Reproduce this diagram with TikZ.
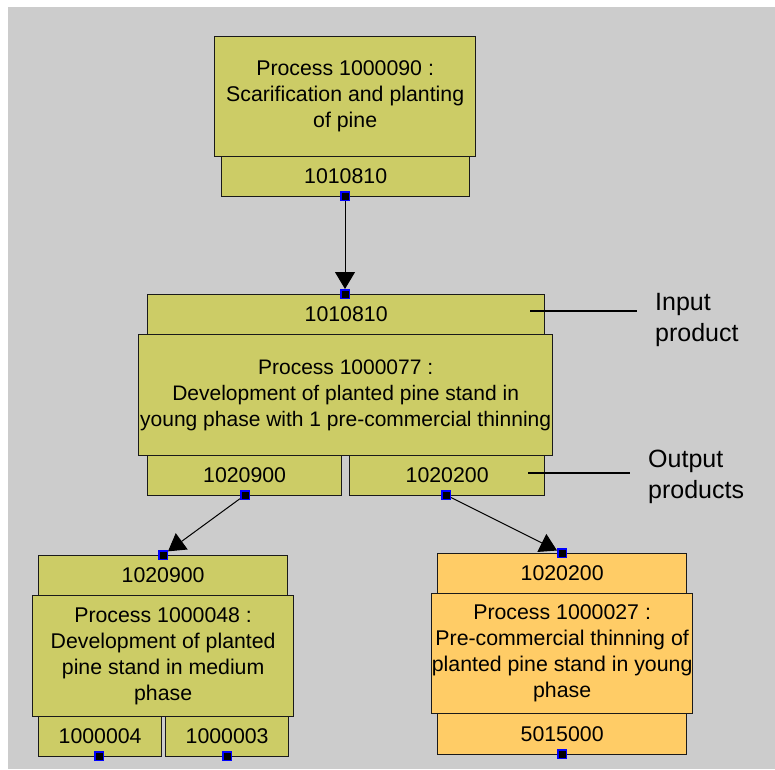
\documentclass[tikz,border=0pt]{standalone}
\usepackage{fontspec}
\setmainfont{Liberation Sans}
\usetikzlibrary{arrows.meta}
\definecolor{olivebox}{HTML}{CCCC66}
\definecolor{orangebox}{HTML}{FFCC66}
\definecolor{bggray}{HTML}{CCCCCC}
\definecolor{edgecol}{HTML}{1A1A1A}
\tikzset{
  box/.style={draw=edgecol, line width=1.3pt, inner sep=0pt, anchor=north west, align=center, font=\fontsize{21.3}{26}\selectfont},
  olive/.style={box, fill=olivebox},
  orng/.style={box, fill=orangebox},
  port/.style={draw=blue, fill=black, line width=1.5pt, minimum size=8.5pt, inner sep=0pt},
  conn/.style={line width=1pt, -{Triangle[length=17pt,width=20pt]}},
  leader/.style={line width=1.1pt},
  lbl/.style={align=left, anchor=north west, inner sep=0pt, font=\fontsize{25}{31}\selectfont},
}
\begin{document}
\begin{tikzpicture}[x=1pt,y=-1pt]
\useasboundingbox (0,0) rectangle (775,769);
\fill[white] (0,0) rectangle (775,769);
\fill[bggray] (8,7) rectangle (775,769);

% top process
\node[olive, minimum width=248pt, minimum height=40pt] (o1) at (221,156) {1010810};
\node[olive, minimum width=261pt, minimum height=120pt] (p1) at (214,36) {Process 1000090 :\\Scarification and planting\\of pine};
\node[port] (o1p) at (345,196) {};

% middle process
\node[olive, minimum width=397pt, minimum height=40pt] (i2) at (147,294) {1010810};
\node[olive, minimum width=194pt, minimum height=40pt] (o2a) at (147,455) {1020900};
\node[olive, minimum width=195pt, minimum height=40pt] (o2b) at (349,455) {1020200};
\node[olive, minimum width=414pt, minimum height=121pt, font=\fontsize{21}{26}\selectfont] (p2) at (138,334) {Process 1000077 :\\Development of planted pine stand in\\young phase with 1 pre-commercial thinning};
\node[port] (i2p) at (345,294) {};
\node[port] (o2ap) at (245,495) {};
\node[port] (o2bp) at (446,495) {};

% bottom left process
\node[olive, minimum width=249pt, minimum height=40pt] (i3) at (38,555) {1020900};
\node[olive, minimum width=123pt, minimum height=40pt] (o3a) at (38,716) {1000004};
\node[olive, minimum width=123pt, minimum height=40pt] (o3b) at (165,716) {1000003};
\node[olive, minimum width=261pt, minimum height=121pt] (p3) at (32,595) {Process 1000048 :\\Development of planted\\pine stand in medium\\phase};
\node[port] (i3p) at (163,555) {};
\node[port] (o3ap) at (99,756) {};
\node[port] (o3bp) at (227,756) {};

% bottom right process
\node[orng, minimum width=249pt, minimum height=40pt] (i4) at (437,553) {1020200};
\node[orng, minimum width=249pt, minimum height=41pt] (o4) at (437,713) {5015000};
\node[orng, minimum width=261pt, minimum height=120pt] (p4) at (431,593) {Process 1000027 :\\Pre-commercial thinning of\\planted pine stand in young\\phase};
\node[port] (i4p) at (562,553) {};
\node[port] (o4p) at (562,754) {};

% connectors
\draw[conn] (o1p) -- (i2p);
\draw[conn] (o2ap) -- (i3p);
\draw[conn] (o2bp) -- (i4p);

% annotations
\coordinate (inA) at (530,311);
\coordinate (inB) at (637,311);
\coordinate (outA) at (528,473);
\coordinate (outB) at (630,473);
\draw[leader] (inA) -- (inB);
\draw[leader] (outA) -- (outB);
\node[lbl] (inlbl) at (655,293.5) {Input\\product};
\node[lbl] (outlbl) at (648,450) {Output\\products};
\end{tikzpicture}
\end{document}
